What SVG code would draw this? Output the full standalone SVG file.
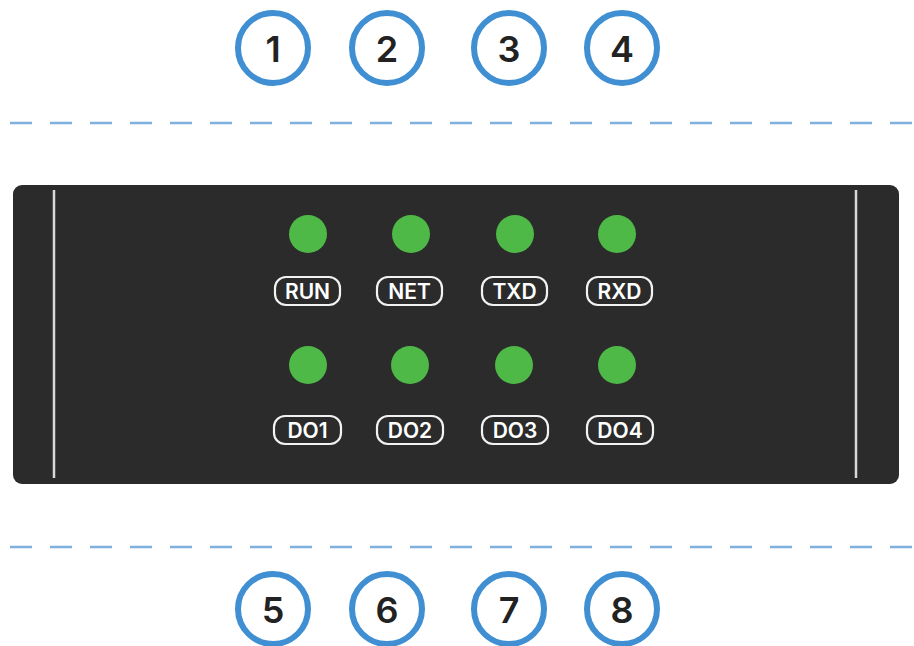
<svg xmlns="http://www.w3.org/2000/svg" width="914" height="646" viewBox="0 0 914 646">
<style>
.num circle{fill:#fff;stroke:#3f8fd2;stroke-width:6}
.num text{font-family:Inter,"Open Sans",sans-serif;font-size:36px;font-weight:600;fill:#222;text-anchor:middle;dominant-baseline:central}
.dash{stroke:#7eb1e0;stroke-width:2.5;stroke-dasharray:22 18}
.led{fill:#4fb948}
.lbl rect{fill:none;stroke:#f2f2f2;stroke-width:2.2}
.lbl text{font-family:Inter,"Open Sans",sans-serif;font-size:21px;font-weight:600;fill:#fff;text-anchor:middle;dominant-baseline:central}
.rail{stroke:#d8d8d8;stroke-width:2.5}
</style>
<rect width="914" height="646" fill="#fff"/>
<g id="connectors">
<line class="dash" x1="10" y1="123" x2="914" y2="123"/>
<line class="dash" x1="10" y1="547" x2="914" y2="547"/>
</g>
<g id="n1" class="num"><circle cx="273" cy="48" r="35"/><text x="273" y="49">1</text></g>
<g id="n2" class="num"><circle cx="387" cy="48" r="35"/><text x="387" y="49">2</text></g>
<g id="n3" class="num"><circle cx="509" cy="48" r="35"/><text x="509" y="49">3</text></g>
<g id="n4" class="num"><circle cx="622" cy="48" r="35"/><text x="622" y="49">4</text></g>
<g id="panel">
<rect x="13" y="185" width="886" height="299" rx="9" fill="#2b2b2b"/>
<line class="rail" x1="54" y1="190" x2="54" y2="478"/>
<line class="rail" x1="856" y1="190" x2="856" y2="478"/>
</g>
<g id="run"><circle class="led" cx="308" cy="234" r="19"/><g class="lbl"><rect x="275" y="277" width="65" height="28" rx="11"/><text x="307.5" y="291.5">RUN</text></g></g>
<g id="net"><circle class="led" cx="411" cy="234" r="19"/><g class="lbl"><rect x="377" y="277" width="65" height="28" rx="11"/><text x="409.5" y="291.5">NET</text></g></g>
<g id="txd"><circle class="led" cx="515" cy="234" r="19"/><g class="lbl"><rect x="482" y="277" width="65" height="28" rx="11"/><text x="514.5" y="291.5">TXD</text></g></g>
<g id="rxd"><circle class="led" cx="617" cy="234" r="19"/><g class="lbl"><rect x="587" y="277" width="65" height="28" rx="11"/><text x="619.5" y="291.5">RXD</text></g></g>
<g id="do1"><circle class="led" cx="308" cy="365" r="19"/><g class="lbl"><rect x="274" y="416" width="67" height="28" rx="11"/><text x="307.5" y="430.5">DO1</text></g></g>
<g id="do2"><circle class="led" cx="410" cy="365" r="19"/><g class="lbl"><rect x="377" y="416" width="66" height="28" rx="11"/><text x="410" y="430.5">DO2</text></g></g>
<g id="do3"><circle class="led" cx="514" cy="365" r="19"/><g class="lbl"><rect x="482" y="416" width="66" height="28" rx="11"/><text x="515" y="430.5">DO3</text></g></g>
<g id="do4"><circle class="led" cx="617" cy="365" r="19"/><g class="lbl"><rect x="587" y="416" width="66" height="28" rx="11"/><text x="620" y="430.5">DO4</text></g></g>
<g id="n5" class="num"><circle cx="273" cy="609" r="35"/><text x="273" y="610">5</text></g>
<g id="n6" class="num"><circle cx="387" cy="609" r="35"/><text x="387" y="610">6</text></g>
<g id="n7" class="num"><circle cx="509" cy="609" r="35"/><text x="509" y="610">7</text></g>
<g id="n8" class="num"><circle cx="622" cy="609" r="35"/><text x="622" y="610">8</text></g>
</svg>
